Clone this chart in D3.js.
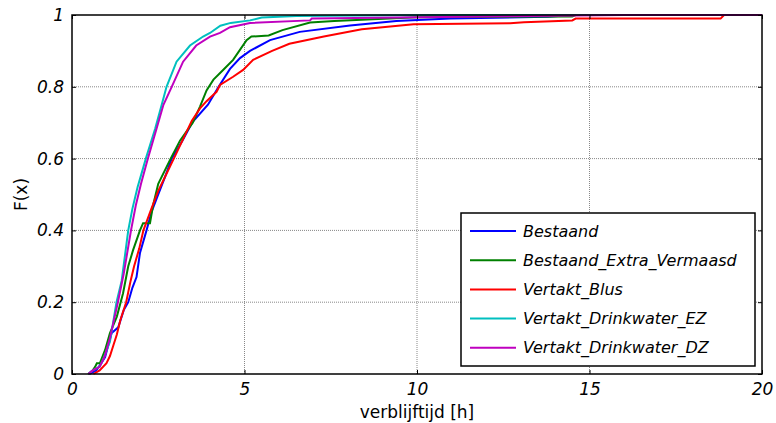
<!DOCTYPE html>
<html>
<head>
<meta charset="utf-8">
<script src="https://cdn.jsdelivr.net/npm/d3@7"></script>
<style>
  body { margin: 0; background: #fff; }
  svg { display: block; font-family: "DejaVu Sans", sans-serif; }
</style>
</head>
<body>
<svg width="776" height="423"></svg>
<script>
// series names + colours
const names = ["Bestaand", "Bestaand_Extra_Vermaasd", "Vertakt_Blus", "Vertakt_Drinkwater_EZ", "Vertakt_Drinkwater_DZ"]
const colors = ["#0000ff", "#008000", "#ff0000", "#00bfbf", "#bf00bf"]

// ECDF points: [hours, F(x)]
const bestaand = [[0.5,0],[0.7,0.01],[0.85,0.03],[0.96,0.047],[1.05,0.08],[1.15,0.114],[1.34,0.13],[1.5,0.178],[1.63,0.2],[1.75,0.24],[1.87,0.27],[1.97,0.337],[2.16,0.4],[2.3,0.45],[2.5,0.5],[2.7,0.55],[2.89,0.6],[3.2,0.65],[3.48,0.7],[3.94,0.75],[4.25,0.8],[4.58,0.85],[4.87,0.88],[5.16,0.9],[5.74,0.93],[6.6,0.953],[8.06,0.971],[9.4,0.983],[10.96,0.99],[13.8,0.995],[14.5,1],[20,1]]
const extraVermaasd = [[0.47,0],[0.6,0.01],[0.67,0.02],[0.72,0.03],[0.81,0.03],[0.96,0.067],[1.1,0.114],[1.3,0.16],[1.48,0.225],[1.63,0.3],[1.77,0.345],[1.97,0.4],[2.06,0.42],[2.26,0.42],[2.35,0.47],[2.5,0.53],[2.86,0.6],[3.13,0.65],[3.5,0.7],[3.71,0.745],[3.9,0.79],[4.1,0.82],[4.38,0.847],[4.67,0.875],[5.06,0.93],[5.2,0.94],[5.7,0.943],[6.1,0.958],[6.9,0.979],[7.6,0.983],[10,0.994],[14.5,0.996],[14.6,1],[20,1]]
const blus = [[0.62,0],[0.8,0.01],[1.0,0.03],[1.1,0.05],[1.2,0.08],[1.3,0.11],[1.4,0.15],[1.57,0.2],[1.7,0.26],[1.8,0.3],[1.95,0.35],[2.07,0.4],[2.3,0.46],[2.5,0.51],[2.75,0.56],[2.95,0.6],[3.2,0.65],[3.47,0.705],[3.71,0.74],[3.9,0.76],[4.19,0.786],[4.29,0.805],[4.67,0.828],[4.96,0.847],[5.25,0.875],[5.8,0.9],[6.3,0.92],[7.3,0.94],[8.4,0.96],[9.9,0.974],[12.7,0.977],[13.1,0.98],[14.5,0.985],[14.6,0.99],[18.8,0.99],[18.9,1],[20,1]]
const drinkEZ = [[0.47,0],[0.6,0.01],[0.8,0.02],[0.9,0.04],[1.1,0.09],[1.29,0.2],[1.44,0.26],[1.63,0.4],[1.75,0.46],[1.9,0.52],[2.05,0.57],[2.14,0.6],[2.41,0.683],[2.6,0.75],[2.74,0.8],[3.03,0.87],[3.42,0.915],[3.8,0.94],[4.0,0.95],[4.3,0.97],[4.6,0.978],[5.16,0.985],[5.5,0.993],[6.5,0.997],[10.4,1],[20,1]]
const drinkDZ = [[0.47,0],[0.6,0.01],[0.8,0.02],[0.95,0.05],[1.1,0.1],[1.33,0.2],[1.5,0.28],[1.71,0.4],[1.85,0.47],[2.0,0.53],[2.2,0.6],[2.45,0.683],[2.65,0.75],[2.89,0.8],[3.22,0.87],[3.6,0.915],[4.0,0.94],[4.29,0.95],[4.58,0.966],[5.16,0.978],[6.9,0.985],[6.95,0.99],[9.5,0.993],[16,1],[20,1]]
const series = [bestaand, extraVermaasd, blus, drinkEZ, drinkDZ]

const xTicks = [0, 5, 10, 15, 20]
const yTicks = [0, 0.2, 0.4, 0.6, 0.8, 1]

const svg = d3.select('svg')
const pLeft = 72, pRight = 762, pTop = 15, pBottom = 374

const x = d3.scaleLinear().domain([0, 20]).range([pLeft, pRight])
const y = d3.scaleLinear().domain([0, 1]).range([pBottom, pTop])

// grid
svg.append('g').selectAll('line').data(xTicks.slice(1, -1)).enter().append('line')
    .attr('x1', d => x(d)).attr('x2', d => x(d))
    .attr('y1', pTop).attr('y2', pBottom)
    .attr('stroke', '#888').attr('stroke-dasharray', '1,1')
svg.append('g').selectAll('line').data(yTicks.slice(1, -1)).enter().append('line')
    .attr('x1', pLeft).attr('x2', pRight)
    .attr('y1', d => y(d)).attr('y2', d => y(d))
    .attr('stroke', '#888').attr('stroke-dasharray', '1,1')

// curves
const line = d3.line().x(d => x(d[0])).y(d => y(d[1]))
svg.append('g').selectAll('path').data(series).enter().append('path')
    .attr('d', line)
    .attr('fill', 'none')
    .attr('stroke', (d, i) => colors[i])
    .attr('stroke-width', 2)

// axes (inside ticks, box)
const fmt = d => String(d)
const ax = svg.append('g')
ax.append('g').attr('transform', `translate(0,${pBottom})`)
    .call(d3.axisBottom(x).tickValues(xTicks).tickSize(-4).tickPadding(9).tickFormat(fmt))
ax.append('g').attr('transform', `translate(0,${pTop})`)
    .call(d3.axisTop(x).tickValues(xTicks).tickSize(-4).tickFormat(''))
ax.append('g').attr('transform', `translate(${pLeft},0)`)
    .call(d3.axisLeft(y).tickValues(yTicks).tickSize(-4).tickPadding(8).tickFormat(fmt))
ax.append('g').attr('transform', `translate(${pRight},0)`)
    .call(d3.axisRight(y).tickValues(yTicks).tickSize(-4).tickFormat(''))
ax.selectAll('.domain').remove()
ax.selectAll('text')
    .attr('fill', '#000')
    .attr('font-family', '"DejaVu Sans", sans-serif')
    .attr('font-size', 17)
    .attr('font-style', 'italic')
ax.selectAll('.tick line').attr('stroke', '#000')

svg.append('rect')
    .attr('x', pLeft).attr('y', pTop)
    .attr('width', pRight - pLeft).attr('height', pBottom - pTop)
    .attr('fill', 'none').attr('stroke', '#000').attr('stroke-width', 1.5)

// labels
svg.append('text').attr('x', x(10)).attr('y', 418)
    .attr('text-anchor', 'middle').attr('font-size', 17).text('verblijftijd [h]')
svg.append('text').attr('transform', `translate(27,${y(0.5)}) rotate(-90)`)
    .attr('text-anchor', 'middle').attr('font-size', 17).text('F(x)')

// legend
const lg = svg.append('g')
lg.append('rect').attr('x', 461).attr('y', 213).attr('width', 294).attr('height', 153)
    .attr('fill', '#fff').attr('stroke', '#000').attr('stroke-width', 1.5)
const rows = lg.selectAll('g.row').data(names).enter().append('g')
    .attr('transform', (d, i) => `translate(0,${231 + i * 29.2})`)
rows.append('line').attr('x1', 470).attr('x2', 516)
    .attr('stroke', (d, i) => colors[i]).attr('stroke-width', 2)
rows.append('text').attr('x', 523).attr('dy', '0.35em')
    .attr('font-size', 16).attr('font-style', 'italic').text(d => d)
</script>
</body>
</html>
